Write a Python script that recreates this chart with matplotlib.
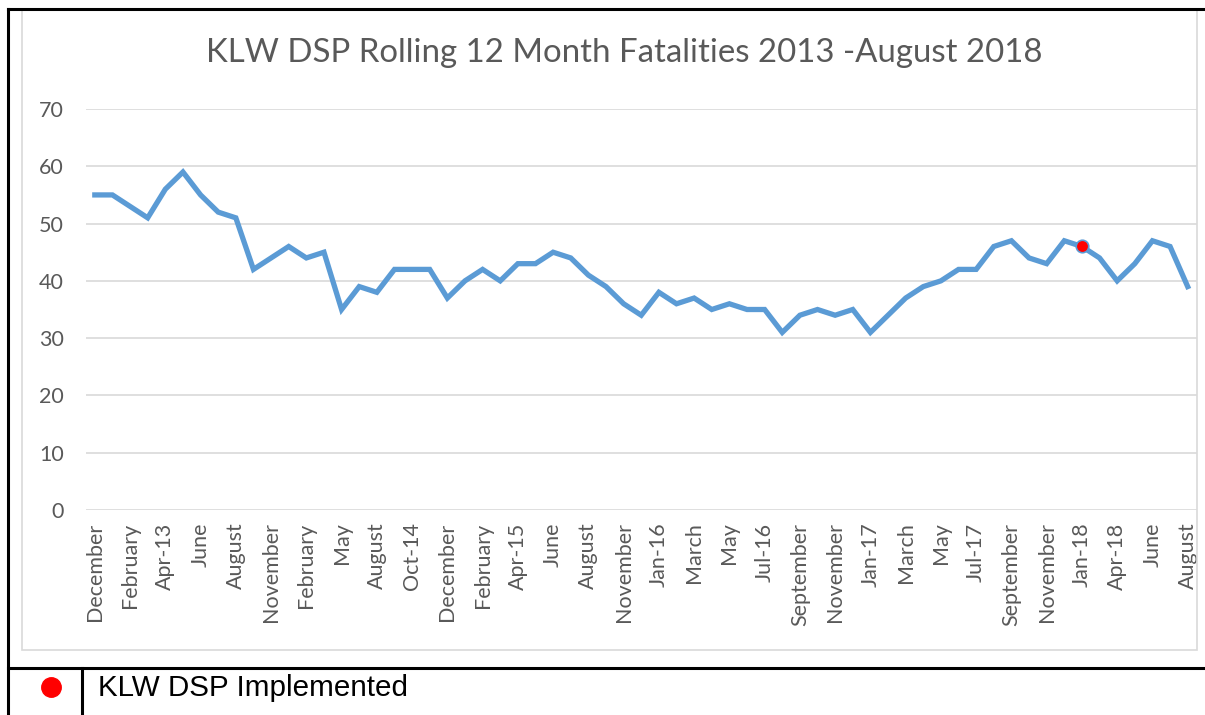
import matplotlib.pyplot as plt
from matplotlib.lines import Line2D
from matplotlib.patches import Rectangle

# data: rolling 12 month fatalities, Dec 2012 - Aug 2018
months = ['December', 'January', 'February', 'March', 'Apr-13', 'May', 'June', 'July',
          'August', 'September', 'November', 'January', 'February', 'April', 'May', 'July',
          'August', 'September', 'Oct-14', 'November', 'December', 'January', 'February', 'March',
          'Apr-15', 'May', 'June', 'July', 'August', 'October', 'November', 'December',
          'Jan-16', 'February', 'March', 'April', 'May', 'June', 'Jul-16', 'August',
          'September', 'October', 'November', 'December', 'Jan-17', 'February', 'March', 'April',
          'May', 'June', 'Jul-17', 'August', 'September', 'October', 'November', 'December',
          'Jan-18', 'March', 'Apr-18', 'May', 'June', 'July', 'August']
fatalities = [55, 55, 53, 51, 56, 59, 55, 52, 51, 42, 44, 46, 44, 45, 35, 39,
              38, 42, 42, 42, 37, 40, 42, 40, 43, 43, 45, 44, 41, 39, 36, 34,
              38, 36, 37, 35, 36, 35, 35, 31, 34, 35, 34, 35, 31, 34, 37, 39,
              40, 42, 42, 46, 47, 44, 43, 47, 46, 44, 40, 43, 47, 46, 39]
implemented = 'Jan-18'

W, H = 1205, 715
fig = plt.figure(figsize=(W / 100, H / 100), dpi=100)

def fx(px):
    return px / W

def fy(py):
    return 1 - py / H

grey = '#595959'
font = ['Lato', 'DejaVu Sans']

# chart area border
fig.add_artist(Rectangle((fx(22), fy(650)), fx(1197) - fx(22), fy(10) - fy(650),
                         transform=fig.transFigure, fill=False, edgecolor='#D9D9D9', lw=1.2))

# table lines
for xs, ys in [([8, 8], [9, 715]), ([8, 1205], [9, 9]), ([8, 1205], [668, 668]), ([82, 82], [668, 715])]:
    fig.add_artist(Line2D([fx(v) for v in xs], [fy(v) for v in ys], color='black', lw=2.2,
                          transform=fig.transFigure))

ax = fig.add_axes([fx(86), fy(510), fx(1196.5) - fx(86), fy(109) - fy(510)])
x = list(range(len(months)))
ax.plot(x, fatalities, color='#5B9BD5', lw=3.8, solid_joinstyle='miter', zorder=3)
k = months.index(implemented)
ax.plot([k], [fatalities[k]], 'o', color='red', markersize=9, markeredgecolor='#5B9BD5',
        markeredgewidth=1.2, zorder=4)

ax.set_xlim(-0.5, len(months) - 0.5)
ax.set_ylim(0, 70)
ax.set_yticks(range(0, 71, 10))
ax.set_xticks(x[::2])
ax.set_xticklabels(months[::2], rotation=90, family=font, fontsize=15.5, color=grey)
for lab in ax.get_yticklabels():
    lab.set_family(font)
    lab.set_fontsize(15.5)
    lab.set_color(grey)
ax.tick_params(axis='both', length=0)
ax.tick_params(axis='x', pad=9)
ax.tick_params(axis='y', pad=16)
ax.grid(axis='y', color='#D9D9D9', lw=1.2)
ax.set_axisbelow(True)
for s in ax.spines.values():
    s.set_visible(False)

fig.text(fx(624), fy(53), 'KLW DSP Rolling 12 Month Fatalities 2013 -August 2018',
         ha='center', va='center', family=font, fontsize=23.8, color=grey)

# legend row below chart
fig.add_artist(Line2D([fx(51)], [fy(687)], marker='o', color='red', markersize=14,
                      transform=fig.transFigure))
fig.text(fx(98), fy(688), 'KLW DSP Implemented', ha='left', va='center',
         family=['Liberation Sans', 'DejaVu Sans'], fontsize=21.3, color='black')

fig.savefig('out.png', dpi=100)
